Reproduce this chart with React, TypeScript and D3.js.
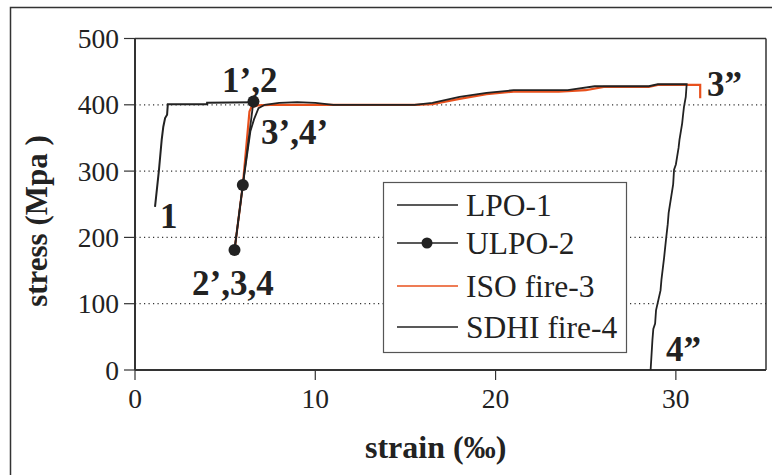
import React from "react";
import * as d3 from "d3";

const xTicks = [0, 10, 20, 30];
const yTicks = [0, 100, 200, 300, 400, 500];
const gridValues = [100, 200, 300, 400];

const lpoStrain = [1.11, 1.17, 1.33, 1.48, 1.57, 1.67, 1.78, 1.82, 4.0, 4.0, 6.57];
const lpoStress = [246, 261, 302, 347, 367, 380, 385, 401, 401, 403, 404];

const ulpoStrain = [5.52, 5.98, 6.57];
const ulpoStress = [181, 279, 405];

const isoStrain = [5.52, 5.98, 6.35, 6.45, 6.8, 7.5, 10, 13.5, 15.5, 16.5, 18, 19.5, 21, 23.5, 25, 26, 28.5, 29, 31.35, 31.35];
const isoStress = [181, 279, 390, 396, 399, 400, 400, 400, 400, 401, 409, 416, 420, 420, 422, 427, 427, 430, 430, 410];

const sdhiStrain = [5.52, 5.98, 6.4, 6.6, 6.85, 7.2, 8, 9, 10, 11, 15.5, 16.5, 18, 19.5, 21, 24, 25.5, 28.5, 29, 30.6, 30.55, 30.45, 30.4, 30.35, 30.2, 30.15, 30.0, 29.9, 29.85, 29.6, 29.55, 29.45, 29.35, 29.2, 29.15, 28.9, 28.85, 28.75, 28.7, 28.6];
const sdhiStress = [181, 279, 360, 378, 395, 400, 403, 404, 403, 400, 400, 403, 412, 418, 422, 422, 428, 428, 431, 431, 412, 397, 385, 372, 347, 335, 310, 302, 280, 237, 220, 196, 170, 136, 120, 90, 70, 62, 45, 0];

const legendLabels = ["LPO-1", "ULPO-2", "ISO fire-3", "SDHI fire-4"];

const DARK = "#222";
const ORANGE = "#e8501c";
const FONT = "'Liberation Serif', 'Times New Roman', serif";

export default function App() {
  const left = 135, right = 766, top = 38.5, bottom = 370;
  const x = d3.scaleLinear().domain([0, 35]).range([left, right]);
  const y = d3.scaleLinear().domain([0, 500]).range([bottom, top]);
  const line = (xs: number[], ys: number[]) =>
    d3.line<number>().x((_, i) => x(xs[i])).y((_, i) => y(ys[i]))(xs.map((_, i) => i)) || "";

  const legendX = 383, legendY = 182, legendW = 243, legendH = 170;
  const rowY = [205, 243, 286, 327];

  return (
    <svg width={772} height={475} style={{ position: "absolute", left: 0, top: 0, background: "#fff" }} fontFamily={FONT}>
      <rect x={10.5} y={7.5} width={800} height={500} fill="none" stroke="#333" strokeWidth={1.5} />
      {gridValues.map((v) => (
        <line key={v} x1={left} x2={right} y1={y(v)} y2={y(v)} stroke="#333" strokeWidth={1.2} strokeDasharray="1.2,3.3" />
      ))}
      {/* plot frame */}
      <line x1={left} x2={right} y1={top} y2={top} stroke="#333" strokeWidth={1.5} />
      <line x1={right} x2={right} y1={top} y2={bottom} stroke="#333" strokeWidth={1.5} />
      <line x1={left} x2={left} y1={top} y2={bottom} stroke="#333" strokeWidth={2} />
      <line x1={left} x2={right} y1={bottom} y2={bottom} stroke="#333" strokeWidth={2} />
      {yTicks.map((v) => (
        <g key={v}>
          <line x1={left - 11} x2={left} y1={y(v)} y2={y(v)} stroke="#333" strokeWidth={1.2} />
          <text x={119} y={y(v) + 9.5} textAnchor="end" fontSize={27.5} fill={DARK}>{v}</text>
        </g>
      ))}
      {xTicks.map((v) => (
        <g key={v}>
          <line x1={x(v)} x2={x(v)} y1={bottom} y2={bottom + 10} stroke="#333" strokeWidth={1.2} />
          <text x={x(v)} y={408} textAnchor="middle" fontSize={27.5} fill={DARK}>{v}</text>
        </g>
      ))}
      {/* curves */}
      <path d={line(lpoStrain, lpoStress)} fill="none" stroke={DARK} strokeWidth={2} />
      <path d={line(isoStrain, isoStress)} fill="none" stroke={ORANGE} strokeWidth={2.2} />
      <path d={line(sdhiStrain, sdhiStress)} fill="none" stroke={DARK} strokeWidth={1.8} />
      <path d={line(ulpoStrain, ulpoStress)} fill="none" stroke={DARK} strokeWidth={1.8} />
      {ulpoStrain.map((s, i) => (
        <circle key={i} cx={x(s)} cy={y(ulpoStress[i])} r={6} fill={DARK} />
      ))}
      {/* annotations */}
      <g fontWeight="bold" fontSize={35} fill={DARK}>
        <text x={160} y={228}>1</text>
        <text x={222} y={92}>1’,2</text>
        <text x={261} y={144}>3’,4’</text>
        <text x={192} y={295}>2’,3,4</text>
        <text x={707} y={96}>3”</text>
        <text x={666} y={361}>4”</text>
      </g>
      {/* legend */}
      <rect x={legendX + 0.5} y={legendY + 0.5} width={legendW} height={legendH} fill="#fff" stroke="#555" strokeWidth={1.2} />
      {legendLabels.map((lab, i) => (
        <g key={lab}>
          <line x1={397} x2={458} y1={rowY[i]} y2={rowY[i]} stroke={i === 2 ? ORANGE : DARK} strokeWidth={1.6} />
          {i === 1 && <circle cx={427} cy={rowY[i]} r={5.5} fill={DARK} />}
          <text x={466} y={rowY[i] + 11} fontSize={31.5} fill={DARK}>{lab}</text>
        </g>
      ))}
      {/* axis titles */}
      <text x={365} y={458} fontWeight="bold" fontSize={32} fill={DARK}>strain (‰)</text>
      <text transform={`translate(47,221) rotate(-90)`} textAnchor="middle" fontWeight="bold" fontSize={31} fill={DARK}>stress (Mpa )</text>
    </svg>
  );
}
